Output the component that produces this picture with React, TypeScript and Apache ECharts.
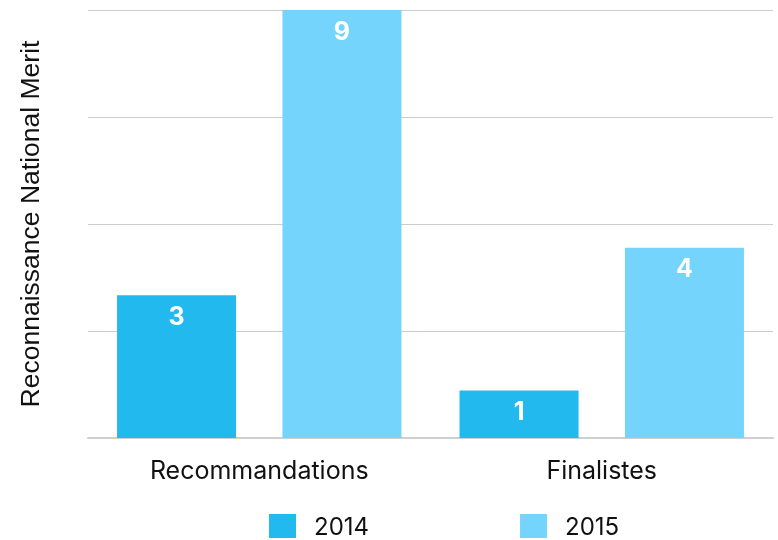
import React, { useEffect, useRef } from "react";
import * as echarts from "echarts";

const categories = ["Recommandations", "Finalistes"];
const seriesNames = ["2014", "2015"];
const values2014 = [3, 1];
const values2015 = [9, 4];
const yAxisTitle = "Reconnaissance National Merit";

const FONT = "Inter, 'Noto Sans', sans-serif";
const TITLE_FONT = "'Liberation Sans', Arial, sans-serif";

export default function App() {
  const ref = useRef<HTMLDivElement>(null);
  useEffect(() => {
    if (!ref.current) return;
    const chart = echarts.init(ref.current, null, { renderer: "svg" });
    const label = {
      show: true,
      position: "insideTop",
      distance: 8,
      color: "#ffffff",
      fontWeight: "bold",
      fontSize: 25,
      fontFamily: FONT,
    };
    chart.setOption({
      animation: false,
      textStyle: { fontFamily: FONT },
      grid: { left: 88, right: 5, top: 10, bottom: 102, containLabel: false },
      legend: {
        left: 269,
        top: 514,
        padding: 0,
        itemWidth: 27,
        itemHeight: 24,
        itemGap: 151,
        icon: "rect",
        textStyle: {
          fontSize: 24,
          lineHeight: 24,
          color: "#111",
          fontFamily: FONT,
          padding: [0, 0, 0, 13],
        },
        data: seriesNames,
      },
      xAxis: {
        type: "category",
        data: categories,
        axisLine: { lineStyle: { color: "#cfcfcf", width: 2 } },
        axisTick: { show: false },
        axisLabel: { fontSize: 25, color: "#111", margin: 19, fontFamily: FONT },
      },
      yAxis: {
        type: "value",
        min: 0,
        max: 9,
        interval: 2.25,
        name: yAxisTitle,
        nameLocation: "middle",
        nameGap: 45,
        nameTextStyle: { fontSize: 26.5, color: "#111", fontFamily: TITLE_FONT },
        axisLabel: { show: false },
        axisTick: { show: false },
        axisLine: { show: false },
        splitLine: { lineStyle: { color: "#cccccc", width: 1 } },
      },
      series: [
        {
          name: seriesNames[0],
          type: "bar",
          data: values2014,
          barWidth: 119,
          barGap: "39%",
          itemStyle: { color: "#22b9ee" },
          label,
        },
        {
          name: seriesNames[1],
          type: "bar",
          data: values2015,
          barWidth: 119,
          barGap: "39%",
          itemStyle: { color: "#75d4fb" },
          label,
        },
      ],
    });
    return () => chart.dispose();
  }, []);
  return (
    <div
      ref={ref}
      style={{ position: "fixed", left: 0, top: 0, width: 778, height: 540 }}
    />
  );
}
